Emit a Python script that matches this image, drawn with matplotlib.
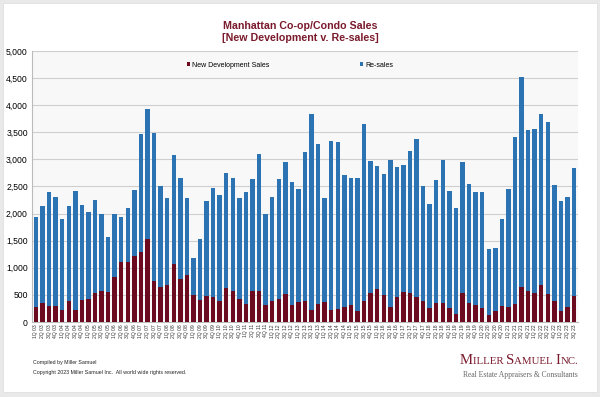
import matplotlib
matplotlib.use("Agg")
import matplotlib.pyplot as plt
from matplotlib.patches import Rectangle
from matplotlib.offsetbox import TextArea, HPacker, AnchoredOffsetbox

# kvartaler 1Q03 - 3Q23
quarters = [f"{q}Q {y:02d}" for y in range(3, 24) for q in range(1, 5)][:83]

new_dev = [280, 345, 300, 290, 230, 380, 225, 415, 425, 540, 565, 555,
           830, 1115, 1100, 1225, 1300, 1530, 750, 640, 685, 1070, 800, 870,
           490, 405, 485, 470, 390, 620, 565, 430, 340, 575, 565, 310,
           380, 425, 510, 315, 365, 380, 230, 330, 365, 215, 240, 270,
           310, 210, 390, 540, 615, 495, 270, 470, 555, 540, 455, 380,
           260, 345, 350, 260, 155, 540, 345, 310, 250, 135, 210, 290,
           285, 330, 640, 580, 535, 675, 510, 395, 195, 285, 480]

totals = [1930, 2140, 2400, 2310, 1900, 2140, 2415, 2155, 2025, 2260, 2000, 1570,
          2000, 1930, 2110, 2430, 3465, 3935, 3490, 2510, 2280, 3075, 2650, 2280,
          1190, 1530, 2225, 2475, 2340, 2750, 2655, 2285, 2390, 2640, 3100, 2000,
          2310, 2640, 2950, 2590, 2455, 3135, 3835, 3290, 2280, 3345, 3320, 2715,
          2655, 2665, 3650, 2970, 2870, 2735, 2980, 2855, 2890, 3150, 3370, 2510,
          2175, 2625, 2985, 2425, 2110, 2950, 2550, 2395, 2395, 1340, 1360, 1895,
          2445, 3410, 4520, 3545, 3570, 3830, 3690, 2535, 2235, 2315, 2850]

resales = [t - n for t, n in zip(totals, new_dev)]

red = "#6c0b1f"
blue = "#2c73b4"

fig = plt.figure(figsize=(6, 3.97), dpi=100, facecolor="#e9e9e9")
# hvitt "kort" bak alt
fig.patches.append(Rectangle((3 / 600, 5 / 397), 594 / 600, 389 / 397,
                             transform=fig.transFigure, facecolor="white",
                             edgecolor="#dddddd", linewidth=0.5, zorder=-5))

ax = fig.add_axes([32 / 600, 75 / 397, 546 / 600, 271 / 397])
ax.set_facecolor("#f8f8f8")

x = range(len(quarters))
ax.bar(x, new_dev, width=0.68, color=red, label="New Development Sales", zorder=3)
ax.bar(x, resales, width=0.68, bottom=new_dev, color=blue, label="Re-sales", zorder=3)

ax.set_xlim(-0.6, len(quarters) - 0.4)
ax.set_ylim(0, 5000)
ax.set_yticks(range(0, 5001, 500))
ax.set_yticklabels([f"{v:,}" for v in range(0, 5001, 500)], fontsize=6.2,
                   family="Liberation Sans")
ax.yaxis.grid(True, color="#cfcfcf", linewidth=0.8, zorder=0)
ax.tick_params(axis="y", length=0, pad=3)

ax.set_xticks(list(x))
ax.set_xticklabels(quarters, rotation=90, fontsize=3.6, family="Liberation Sans",
                   color="#333333")
ax.tick_params(axis="x", length=0, pad=1.5)

for s in ["top", "right"]:
    ax.spines[s].set_visible(False)
ax.spines["left"].set_color("#bbbbbb")
ax.spines["bottom"].set_color("#bbbbbb")

ax.legend(loc="center", bbox_to_anchor=(0.4725, 0.948), ncol=2, frameon=False,
          prop={"family": "Liberation Sans", "size": 5},
          handlelength=0.5, handleheight=0.5, handletextpad=0.3,
          columnspacing=13)

fig.text(0.5, (397 - 21) / 397, "Manhattan Co-op/Condo Sales\n[New Development v. Re-sales]",
         ha="center", va="top", fontsize=7.7, fontweight="bold", color="#7a1a2c",
         family="Liberation Sans", linespacing=1.2)

fig.text(33 / 600, (397 - 364) / 397, "Compiled by Miller Samuel", fontsize=3.8,
         family="Liberation Sans", color="#222222")
fig.text(33 / 600, (397 - 374) / 397,
         "Copyright 2023 Miller Samuel Inc.  All world wide rights reserved.",
         fontsize=3.8, family="Liberation Sans", color="#222222")

# firmanavn i kapitéler
parts = [("M", 10.6), ("ILLER ", 7.8), ("S", 10.6), ("AMUEL ", 7.8), ("I", 10.6), ("NC.", 7.8)]
boxes = [TextArea(t, textprops=dict(fontsize=s, family="Liberation Serif", color="#7a1a2c"))
         for t, s in parts]
logo = HPacker(children=boxes, align="baseline", pad=0, sep=0)
anch = AnchoredOffsetbox(loc="lower right", child=logo, frameon=False, pad=0,
                         bbox_to_anchor=(578 / 600, (397 - 367) / 397),
                         bbox_transform=fig.transFigure, borderpad=0)
fig.add_artist(anch)

fig.text(578 / 600, (397 - 377) / 397, "Real Estate Appraisers & Consultants",
         ha="right", fontsize=5.5, family="Liberation Serif", color="#666666")

fig.savefig("out.png", dpi=100, facecolor=fig.get_facecolor())
